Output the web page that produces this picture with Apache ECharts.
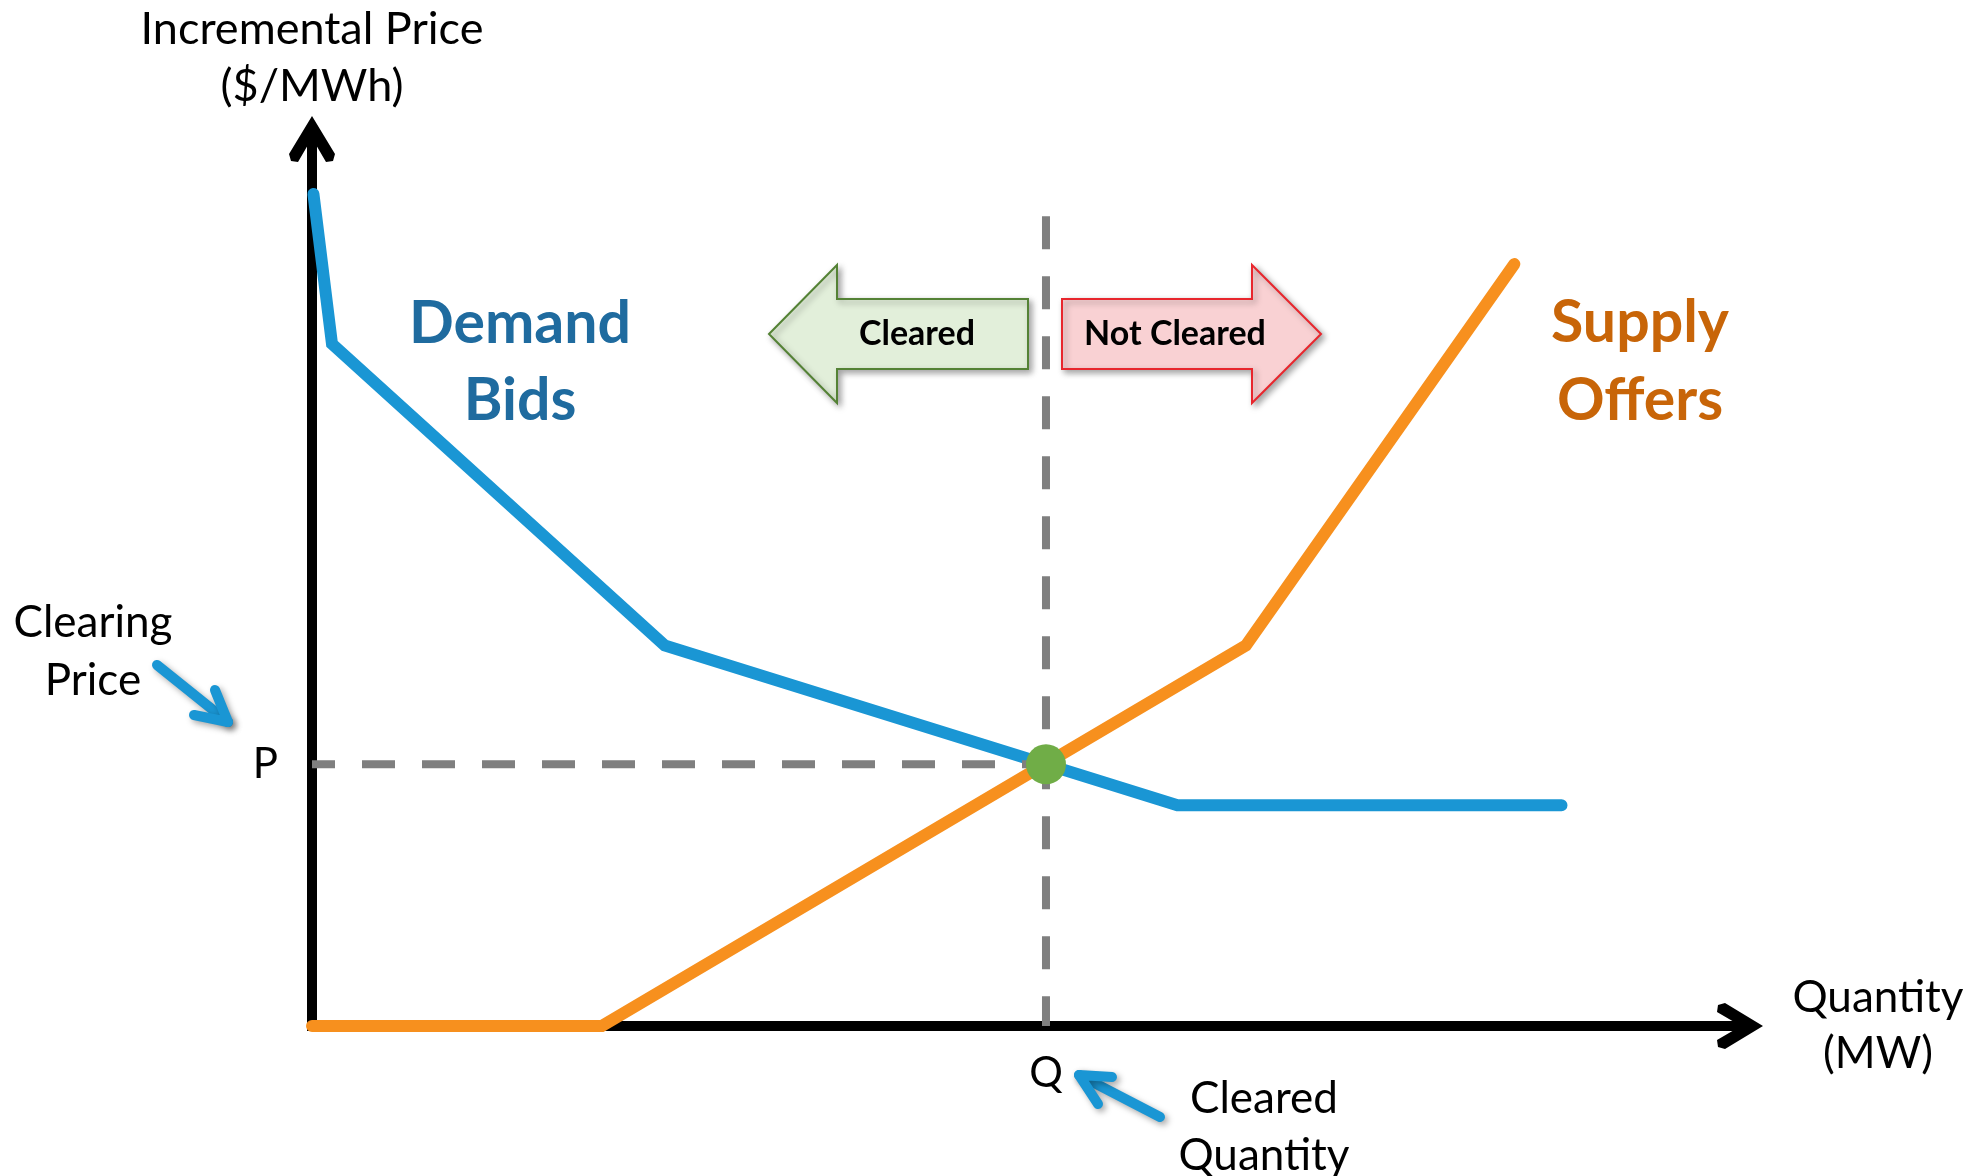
<!DOCTYPE html>
<html>
<head>
<meta charset="utf-8">
<title>Demand bids and supply offers</title>
<script src="https://cdn.jsdelivr.net/npm/echarts@6/dist/echarts.min.js"></script>
<style>
  html, body { margin: 0; padding: 0; background: #fff; }
  #chart { width: 1980px; height: 1176px; }
</style>
</head>
<body>
<div id="chart"></div>
<script>
// quantity on x, price on y, both in plain units 0-100
var demandBids = [[0.1, 93.8], [1.4, 76.9], [24.7, 42.9], [60.6, 24.9], [87.5, 24.9]];
var supplyOffers = [[0, 0], [20.3, 0], [65.4, 42.9], [84.2, 85.9]];
var clearingPoint = [51.4, 29.5];   // Q, P
var guideTop = 91.3;
var xTickValues = [51.4];
var xTickLabels = ['Q'];
var yTickValues = [29.5];
var yTickLabels = ['P'];

var fontFamily = 'Lato, "Open Sans", sans-serif';
// open chevron arrow head for the axes (points up, ECharts turns it)
var chevron = 'path://M23,0 L46,38 L44,45 L37,46 L23,22 L9,46 L2,45 L0,38 Z';

function tickName(values, labels) {
    return function (v) {
        for (var i = 0; i < values.length; i++) {
            if (Math.abs(values[i] - v) < 1e-6) return labels[i];
        }
        return '';
    };
}

var shadow = {
    shadowBlur: 6,
    shadowOffsetX: 3,
    shadowOffsetY: 3,
    shadowColor: 'rgba(0,0,0,0.35)'
};

function label(x, y, text, size, weight, color, lineHeight) {
    return {
        type: 'text', x: x, y: y, z: 20,
        style: {
            text: text, fontSize: size, fontWeight: weight, fontFamily: fontFamily,
            fill: color, align: 'center', verticalAlign: 'middle', lineHeight: lineHeight
        }
    };
}

function pointer(points, head) {
    return [
        { type: 'polyline', z: 15, shape: { points: points },
          style: Object.assign({ stroke: '#1a96d4', lineWidth: 10, lineCap: 'round', lineJoin: 'round', fill: null }, shadow) },
        { type: 'polyline', z: 15, shape: { points: head },
          style: Object.assign({ stroke: '#1a96d4', lineWidth: 10, lineCap: 'round', lineJoin: 'round', fill: null }, shadow) }
    ];
}

var graphics = [
    { type: 'polygon', z: 10,
      shape: { points: [[769, 334], [837, 265], [837, 299], [1028, 299], [1028, 369], [837, 369], [837, 403]] },
      style: Object.assign({ fill: '#e2efda', stroke: '#548235', lineWidth: 2 }, shadow) },
    { type: 'polygon', z: 10,
      shape: { points: [[1062, 299], [1252, 299], [1252, 265], [1321, 334], [1252, 403], [1252, 369], [1062, 369]] },
      style: Object.assign({ fill: '#f9d1d3', stroke: '#e8262d', lineWidth: 2 }, shadow) },
    label(917, 334, 'Cleared', 34, 'bold', '#000', 40),
    label(1175, 334, 'Not Cleared', 34, 'bold', '#000', 40),
    label(520, 362, 'Demand\nBids', 59, 'bold', '#1f6b9f', 77),
    label(1640, 362, 'Supply\nOffers', 59, 'bold', '#c86508', 78),
    label(93, 652, 'Clearing\nPrice', 44, 'normal', '#000', 58),
    label(1264, 1127, 'Cleared\nQuantity', 44, 'normal', '#000', 57)
].concat(
    pointer([[157, 665], [228, 722]], [[215, 690], [228, 722], [194, 715]]),
    pointer([[1160, 1117], [1079, 1075]], [[1112, 1077], [1079, 1075], [1098, 1104]])
);

var chart = echarts.init(document.getElementById('chart'));
var option = {
    backgroundColor: '#fff',
    animation: false,
    grid: {
        left: 312, right: 240, top: 139, bottom: 150,
        containLabel: false,
        outerBoundsMode: 'none'
    },
    xAxis: {
        type: 'value', min: 0, max: 100,
        name: 'Quantity\n(MW)',
        nameLocation: 'end',
        nameGap: 138,
        nameTextStyle: { fontSize: 44, fontFamily: fontFamily, color: '#000', align: 'center', lineHeight: 56 },
        axisLine: {
            show: true,
            symbol: ['none', chevron],
            symbolSize: [46, 46],
            lineStyle: { color: '#000', width: 10, cap: 'square' }
        },
        axisTick: { show: false },
        splitLine: { show: false },
        axisLabel: {
            customValues: xTickValues,
            formatter: tickName(xTickValues, xTickLabels),
            fontSize: 42, fontFamily: fontFamily, color: '#000', margin: 26
        }
    },
    yAxis: {
        type: 'value', min: 0, max: 100,
        name: 'Incremental Price\n($/MWh)',
        nameLocation: 'end',
        nameGap: 24,
        nameTextStyle: { fontSize: 45, fontFamily: fontFamily, color: '#000', align: 'center', lineHeight: 57 },
        axisLine: {
            show: true,
            symbol: ['none', chevron],
            symbolSize: [46, 46],
            lineStyle: { color: '#000', width: 10, cap: 'square' }
        },
        axisTick: { show: false },
        splitLine: { show: false },
        axisLabel: {
            customValues: yTickValues,
            formatter: tickName(yTickValues, yTickLabels),
            fontSize: 42, fontFamily: fontFamily, color: '#000', margin: 34
        }
    },
    series: [
        {
            name: 'Demand Bids', type: 'line', data: demandBids, z: 3,
            showSymbol: false, silent: true,
            lineStyle: { color: '#1a96d4', width: 12, cap: 'round', join: 'miter' }
        },
        {
            name: 'Supply Offers', type: 'line', data: supplyOffers, z: 3,
            showSymbol: false, silent: true,
            lineStyle: { color: '#f7901e', width: 12, cap: 'round', join: 'miter' }
        },
        {
            name: 'Clearing price', type: 'line', z: 4,
            data: [[0, clearingPoint[1]], [clearingPoint[0], clearingPoint[1]]],
            showSymbol: false, silent: true,
            lineStyle: { color: '#7f7f7f', width: 8, type: [33, 27], dashOffset: 10 }
        },
        {
            name: 'Cleared quantity', type: 'line', z: 4,
            data: [[clearingPoint[0], guideTop], [clearingPoint[0], 0]],
            showSymbol: false, silent: true,
            lineStyle: { color: '#7f7f7f', width: 8, type: [33, 27] }
        },
        {
            name: 'Clearing point', type: 'scatter', z: 5,
            data: [clearingPoint],
            symbolSize: 40, silent: true,
            itemStyle: { color: '#70ad47', opacity: 1 }
        }
    ],
    graphic: graphics
};
chart.setOption(option);
</script>
</body>
</html>
